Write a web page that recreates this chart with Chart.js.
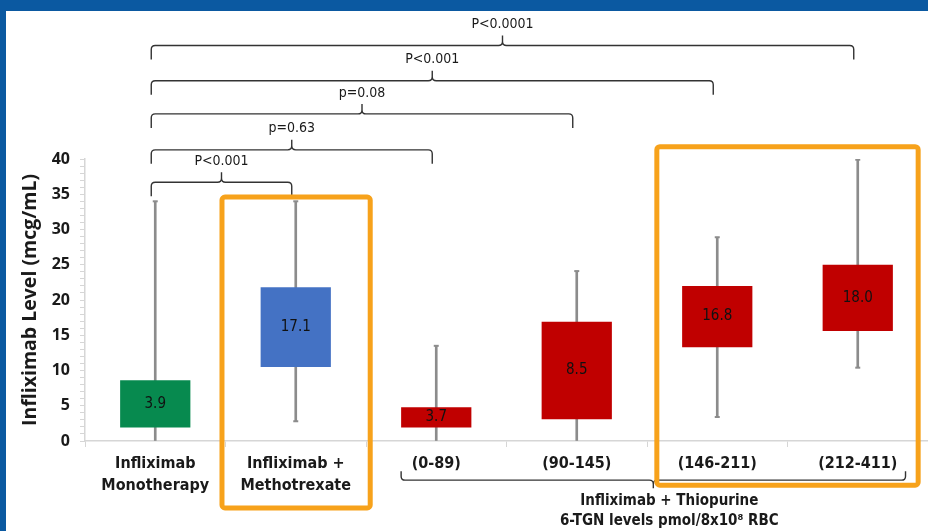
<!DOCTYPE html>
<html>
<head>
<meta charset="utf-8">
<script src="https://cdn.jsdelivr.net/npm/chart.js@4.4.1/dist/chart.umd.min.js"></script>
<style>
    html, body { margin: 0; padding: 0; background: #ffffff; }
    #wrap { position: relative; width: 928px; height: 531px; overflow: hidden; background: #ffffff; }
    #frameTop { position: absolute; left: 0; top: 0; width: 928px; height: 11px; background: #0b59a1; }
    #frameLeft { position: absolute; left: 0; top: 0; width: 6px; height: 531px; background: #0b59a1; }
    #hist01 { position: absolute; left: 0; top: 0; }
</style>
</head>
<body>
<div id="wrap">
    <div id="frameTop"></div>
    <div id="frameLeft"></div>
    <canvas id="hist01" width="934" height="531"></canvas>
</div>
<script>
// categories
const categoryLabels = [
    ['Infliximab', 'Monotherapy'],
    ['Infliximab +', 'Methotrexate'],
    '(0-89)',
    '(90-145)',
    '(146-211)',
    '(212-411)',
];

// box (quartiles), whiskers and medians
const boxLow = [1.9, 10.5, 1.9, 3.1, 13.3, 15.6];
const boxHigh = [8.6, 21.8, 4.8, 16.9, 22.0, 25.0];
const whiskerLow = [0, 2.8, 0, 0, 3.4, 10.4];
const whiskerHigh = [34.0, 34.0, 13.5, 24.1, 28.9, 39.9];
const medianValues = [3.9, 17.1, 3.7, 8.5, 16.8, 18.0];
const boxColors = ['#078a4f', '#4472c4', '#c00000', '#c00000', '#c00000', '#c00000'];

// significance brackets: [from index, to index, label, level on y scale]
const comparisons = [
    [0, 1, 'P<0.001', 36.7],
    [0, 2, 'p=0.63', 41.3],
    [0, 3, 'p=0.08', 46.4],
    [0, 4, 'P<0.001', 51.1],
    [0, 5, 'P<0.0001', 56.1],
];

// group bracket under the thiopurine categories
const groupFrom = 1.75;
const groupTo = 5.34;
const groupLevel = -5.55;
const groupText = ['Infliximab + Thiopurine', '6-TGN levels pmol/8x10\u2078 RBC'];

// highlight frames: [x from, x to, y top, y bottom] in scale units
const highlights = [
    [0.475, 1.53, 34.6, -9.5],
    [3.57, 5.43, 41.75, -6.26],
];

const NARROW = '"Liberation Sans Narrow", "DejaVu Sans Condensed", "Liberation Sans", sans-serif';
const WHISKER = '#8c8c8c';
const AXIS = '#d6d6d6';

function drawBrace(ctx, x1, x2, y, leg, tip, dir) {
    // dir = -1: tip points up, legs go down; dir = 1: tip points down, legs go up
    const r = 4;
    const mid = (x1 + x2) / 2;
    ctx.beginPath();
    ctx.moveTo(x1, y - dir * leg);
    ctx.lineTo(x1, y - dir * r);
    ctx.quadraticCurveTo(x1, y, x1 + r, y);
    ctx.lineTo(mid - r, y);
    ctx.quadraticCurveTo(mid, y, mid, y + dir * r);
    ctx.lineTo(mid, y + dir * tip);
    ctx.moveTo(mid, y + dir * r);
    ctx.quadraticCurveTo(mid, y, mid + r, y);
    ctx.lineTo(x2 - r, y);
    ctx.quadraticCurveTo(x2, y, x2, y - dir * r);
    ctx.lineTo(x2, y - dir * leg);
    ctx.stroke();
}

const annotationPlugin = {
    id: 'boxAnnotations',
    afterDatasetsDraw(chart) {
        const { ctx } = chart;
        const xs = chart.scales.x;
        const ys = chart.scales.y;
        ctx.save();
        ctx.fillStyle = '#111111';
        ctx.font = `15px ${NARROW}`;
        ctx.textAlign = 'center';
        ctx.textBaseline = 'middle';
        medianValues.forEach((m, i) => {
            const x = xs.getPixelForValue(i);
            const y = ys.getPixelForValue((boxLow[i] + boxHigh[i]) / 2);
            ctx.fillText(m.toFixed(1), x, y);
        });
        ctx.restore();
    },
    afterDraw(chart) {
        const { ctx } = chart;
        const xs = chart.scales.x;
        const ys = chart.scales.y;
        ctx.save();
        ctx.strokeStyle = '#333333';
        ctx.lineWidth = 1.4;
        ctx.fillStyle = '#1a1a1a';
        ctx.font = `14px ${NARROW}`;
        ctx.textAlign = 'center';
        ctx.textBaseline = 'middle';
        comparisons.forEach(([a, b, label, level]) => {
            const x1 = xs.getPixelForValue(a) - 4;
            const x2 = xs.getPixelForValue(b) - 4;
            const y = ys.getPixelForValue(level);
            drawBrace(ctx, x1, x2, y, 14, 10, -1);
            ctx.fillText(label, (x1 + x2) / 2, y - 21);
        });

        // group bracket + label
        const gx1 = xs.getPixelForValue(groupFrom);
        const gx2 = xs.getPixelForValue(groupTo);
        const gy = ys.getPixelForValue(groupLevel);
        drawBrace(ctx, gx1, gx2, gy, 9, 8, 1);
        ctx.font = `bold 15px ${NARROW}`;
        ctx.fillText(groupText[0], (gx1 + gx2) / 2 + 16, gy + 21);
        ctx.fillText(groupText[1], (gx1 + gx2) / 2 + 16, gy + 41);

        // orange highlight frames
        ctx.strokeStyle = '#f7a21b';
        ctx.lineWidth = 5;
        highlights.forEach(([a, b, top, bottom]) => {
            const x1 = xs.getPixelForValue(a);
            const x2 = xs.getPixelForValue(b);
            const y1 = ys.getPixelForValue(top);
            const y2 = ys.getPixelForValue(bottom);
            ctx.beginPath();
            ctx.roundRect(x1, y1, x2 - x1, y2 - y1, 3);
            ctx.stroke();
        });
        ctx.restore();
    },
};

const ctx = document.getElementById('hist01').getContext('2d');
const chart = new Chart(ctx, {
    type: 'bar',
    data: {
        labels: categoryLabels,
        datasets: [
            {
                label: 'Whisker',
                data: whiskerLow.map((lo, i) => [lo, whiskerHigh[i]]),
                backgroundColor: WHISKER,
                barThickness: 2,
                grouped: false,
                order: 3,
            },
            {
                label: 'Box',
                data: boxLow.map((lo, i) => [lo, boxHigh[i]]),
                backgroundColor: boxColors,
                barPercentage: 0.5,
                categoryPercentage: 1,
                grouped: false,
                order: 1,
            },
            {
                type: 'line',
                label: 'CapTop',
                data: whiskerHigh,
                showLine: false,
                pointStyle: 'line',
                pointRadius: 2.5,
                borderColor: WHISKER,
                borderWidth: 2,
                order: 0,
            },
            {
                type: 'line',
                label: 'CapLow',
                data: whiskerLow.map(v => (v > 0 ? v : null)),
                showLine: false,
                pointStyle: 'line',
                pointRadius: 2.5,
                borderColor: WHISKER,
                borderWidth: 2,
                order: 0,
            },
        ],
    },
    options: {
        responsive: false,
        animation: false,
        events: [],
        layout: {
            padding: { top: 159, bottom: 28, left: 0, right: 0 },
        },
        plugins: {
            legend: { display: false },
            title: { display: false },
            tooltip: { enabled: false },
        },
        scales: {
            x: {
                border: { color: AXIS, width: 1.5 },
                grid: {
                    offset: true,
                    drawOnChartArea: false,
                    color: AXIS,
                    tickLength: 6,
                },
                ticks: {
                    color: '#1a1a1a',
                    maxRotation: 0,
                    minRotation: 0,
                    padding: 6,
                    font: { family: NARROW, size: 16, weight: 'bold', lineHeight: 1.375 },
                },
            },
            y: {
                min: 0,
                max: 40,
                afterFit(scaleInstance) {
                    scaleInstance.width = 85;
                },
                border: { color: AXIS, width: 1.5 },
                grid: {
                    drawOnChartArea: false,
                    color: AXIS,
                    tickLength: 5,
                },
                ticks: {
                    stepSize: 1,
                    autoSkip: false,
                    color: '#1a1a1a',
                    padding: 10,
                    font: { family: 'Open Sans', size: 16, weight: 'bold' },
                    callback: v => (v % 5 === 0 ? v : ''),
                },
                title: {
                    display: true,
                    text: 'Infliximab Level (mcg/mL)',
                    color: '#1a1a1a',
                    font: { family: 'Open Sans', size: 19.5, weight: 'bold', lineHeight: 1.2 },
                    padding: { top: 18.3, bottom: 0 },
                },
            },
        },
    },
    plugins: [annotationPlugin],
});
</script>
</body>
</html>
